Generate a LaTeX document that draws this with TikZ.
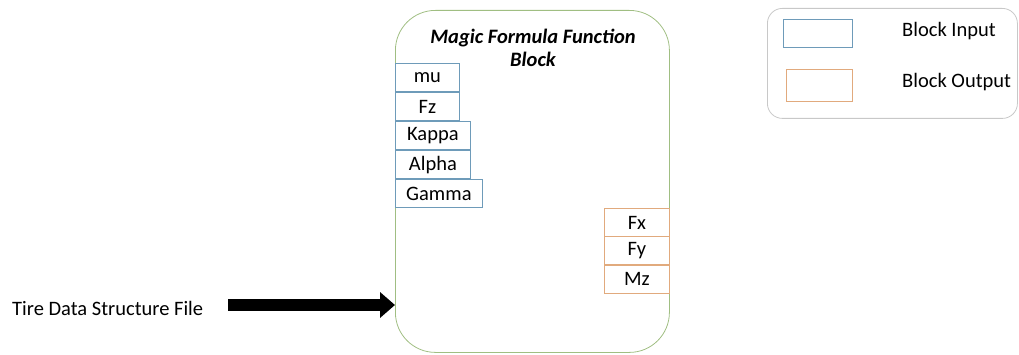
\documentclass[tikz,border=0pt]{standalone}
\usepackage{fontspec}
\setmainfont{Carlito}
\usetikzlibrary{arrows.meta,positioning}

\definecolor{blockgreen}{RGB}{160,190,130}
\definecolor{inblue}{RGB}{110,155,185}
\definecolor{outorange}{RGB}{225,170,125}
\definecolor{legendgrey}{RGB}{200,200,200}

\tikzset{
  txt/.style={font=\fontsize{20.5}{23}\selectfont, inner sep=0pt},
  portbox/.style={draw, line width=0.8pt, inner sep=0pt, anchor=north west,
    minimum height=28.5pt, font=\fontsize{20.5}{23}\selectfont},
  inport/.style={portbox, draw=inblue},
  outport/.style={portbox, draw=outorange},
  mainblock/.style={draw=blockgreen, line width=0.8pt, rounded corners=40pt,
    anchor=north west, minimum width=274pt, minimum height=342pt, inner sep=0pt},
  legendbox/.style={draw=legendgrey, line width=0.8pt, rounded corners=15pt,
    anchor=north west, minimum width=250pt, minimum height=110pt, inner sep=0pt},
  bigarrow/.style={line width=12pt, -{Triangle[length=15pt,width=25pt]}},
}

\begin{document}
\begin{tikzpicture}[x=1pt,y=-1pt]
  \useasboundingbox (0,0) rectangle (1019,355);

  % function block
  \node[mainblock] (block) at (395,10) {};
  \node[txt, font=\fontsize{20.5}{23}\selectfont\bfseries\itshape, align=center]
    (title) at (533,48) {Magic Formula Function\\Block};

  % inputs
  \node[inport, minimum width=64pt]  (mu)    at (395,63)  {mu};
  \node[inport, minimum width=64pt]  (fz)    at (395,92)  {Fz};
  \node[inport, minimum width=75pt]  (kappa) at (395,121) {Kappa};
  \node[inport, minimum width=75pt]  (alpha) at (395,150) {Alpha};
  \node[inport, minimum width=87pt]  (gamma) at (395,179) {Gamma};

  % outputs
  \node[outport, minimum width=65pt] (fx) at (604,208) {Fx};
  \node[outport, minimum width=65pt] (fy) at (604,236) {Fy};
  \node[outport, minimum width=65pt] (mz) at (604,264) {Mz};

  % tire data input
  \node[txt, anchor=west] (tire) at (12,308) {Tire Data Structure File};
  \coordinate (src) at (228,305);
  \draw[bigarrow] (src) -- (block.west |- src);

  % legend
  \node[legendbox] (legend) at (767,8) {};
  \node[draw=inblue, line width=0.8pt, anchor=north west, minimum width=69pt,
    minimum height=28pt, inner sep=0pt] (legin) at (783,19) {};
  \node[draw=outorange, line width=0.8pt, anchor=north west, minimum width=66pt,
    minimum height=32pt, inner sep=0pt] (legout) at (786,69) {};
  \node[txt, anchor=west] (legintxt) at (902,31) {Block Input};
  \node[txt, anchor=west] (legouttxt) at (902,82) {Block Output};
\end{tikzpicture}
\end{document}
